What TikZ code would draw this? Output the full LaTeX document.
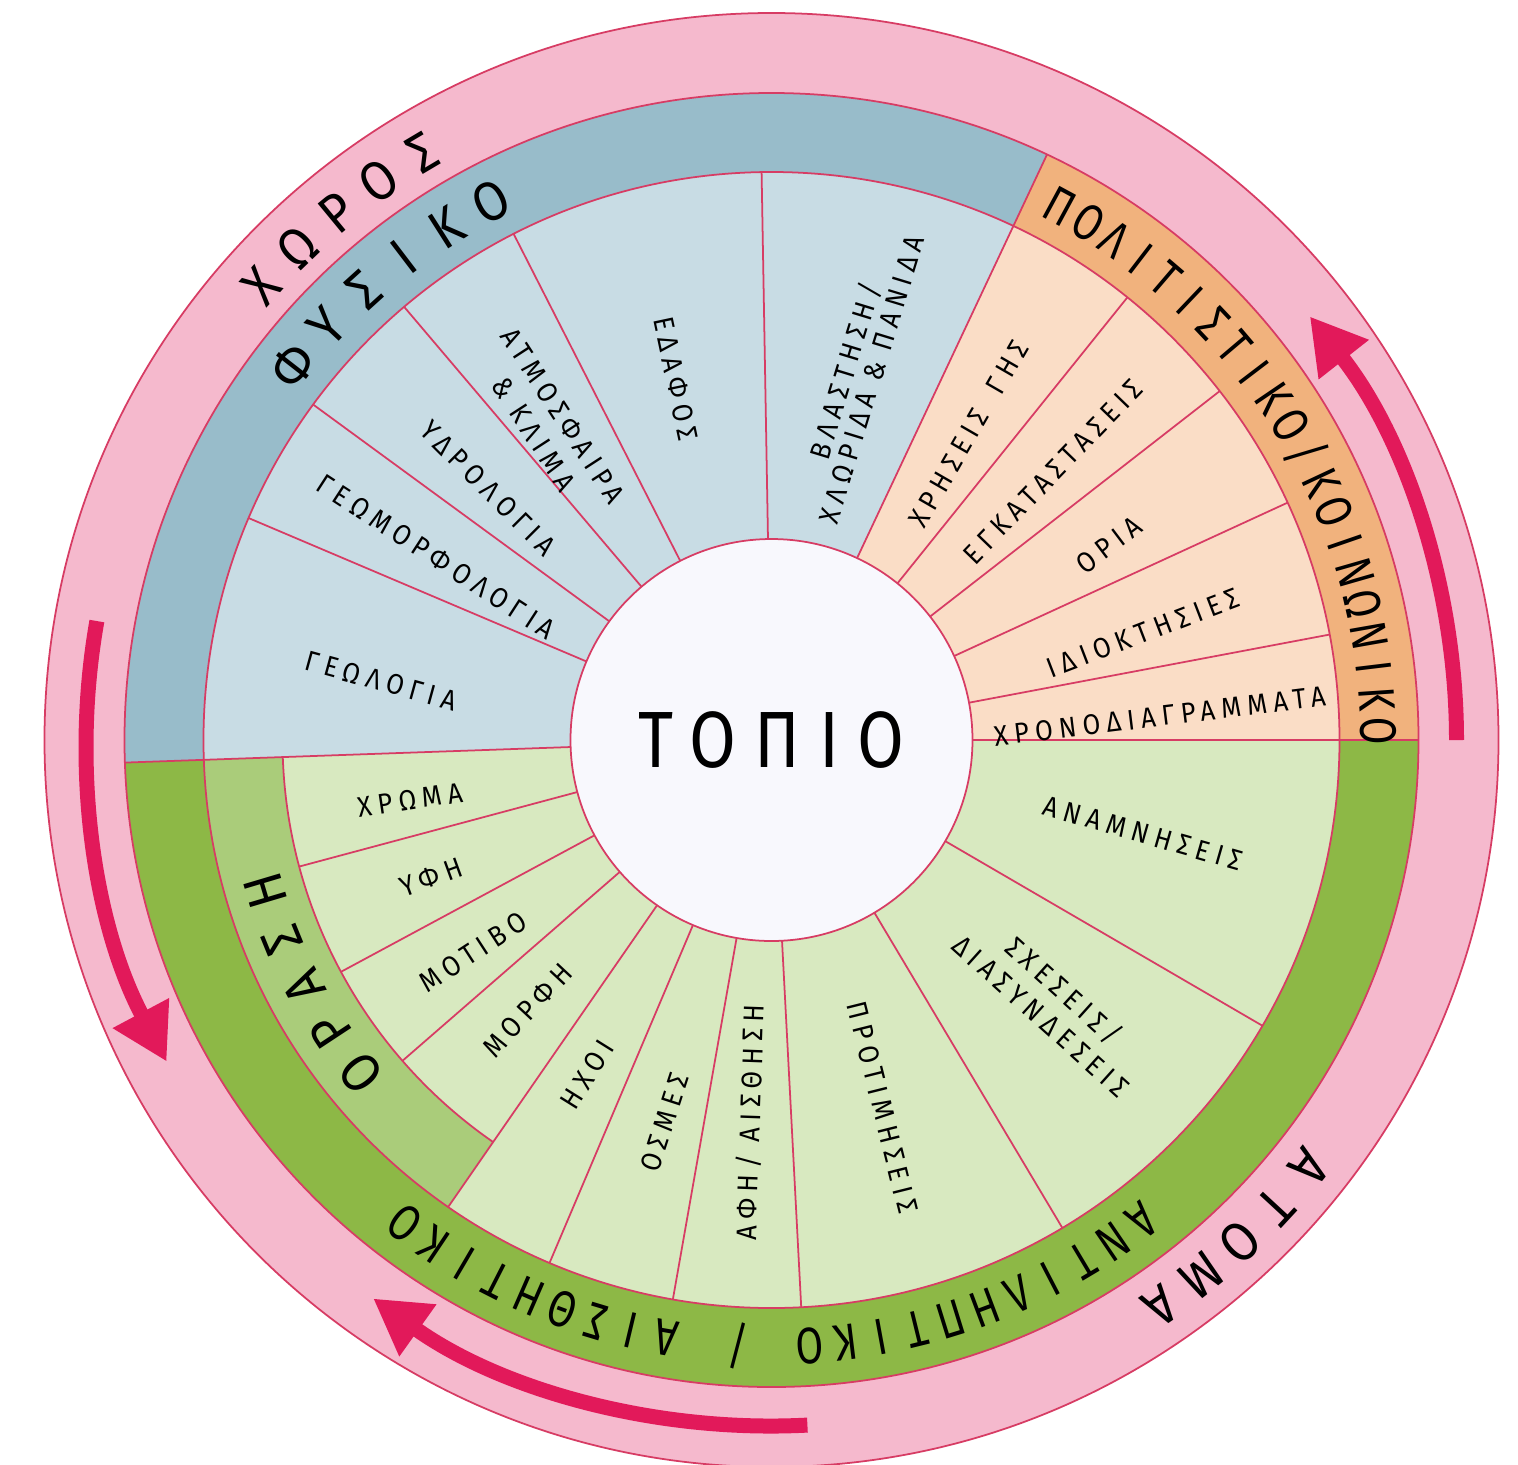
\documentclass[tikz,border=0pt]{standalone}
\usepackage{fontspec}
\setmainfont{Fira Sans}
\newfontfamily\bandfont[FakeStretch=0.9]{Fira Sans}
\newfontfamily\narrowfont[FakeStretch=0.78]{Fira Sans}
\newfontfamily\labelfont[FakeStretch=0.9,LetterSpace=22]{Fira Sans}
\newfontfamily\titlefont[FakeStretch=0.85,LetterSpace=23]{Fira Sans}
\usetikzlibrary{arrows.meta}

\definecolor{ringpink}{HTML}{F5B9CD}
\definecolor{rimred}{HTML}{D73C64}
\definecolor{arrowred}{HTML}{E2195A}
\definecolor{physband}{HTML}{98BCCA}
\definecolor{physseg}{HTML}{C8DCE4}
\definecolor{cultband}{HTML}{F1B27D}
\definecolor{cultseg}{HTML}{FADDC6}
\definecolor{percband}{HTML}{8DB846}
\definecolor{percseg}{HTML}{D8E9C0}
\definecolor{visband}{HTML}{AACC7A}
\definecolor{hubwhite}{HTML}{F8F8FD}

\tikzset{
  rim/.style={draw=rimred, line width=0.5pt},
  flow/.style={draw=arrowred, line width=1.5mm, -{Triangle[length=5.5mm,width=6mm]}},
  seglabel/.style={font=\labelfont\fontsize{8.1}{9.7}\selectfont, align=center, inner sep=0pt},
  ringletter/.style={font=\bandfont\fontsize{15.7}{16}\selectfont, inner sep=0pt},
  narrowletter/.style={font=\narrowfont\fontsize{14.6}{15}\selectfont, inner sep=0pt},
  hub/.style={circle, draw=rimred, line width=0.5pt, fill=hubwhite, minimum size=40.2mm,
    inner sep=0pt, font=\titlefont\fontsize{22.7}{24}\selectfont}
}

% letters spaced along a clockwise arc: style, name, radius, first angle, step, letters
\newcommand{\ringword}[6]{%
  \foreach \ch [count=\k from 0] in {#6}
    \node[#1, rotate={#4-#5*\k-90}] (#2-\k) at ({#4-#5*\k}:#3) {\ch};}

\begin{document}
\begin{tikzpicture}[x=0.1mm, y=0.1mm]

\fill[white] (-771.5,-724) rectangle (746.5,740);
\useasboundingbox (-771.5,-724) rectangle (746.5,740);

% outer ring
\draw[rim, fill=ringpink] (0,0) circle[radius=727];

% the three bands
\fill[physband] (0,0) -- (182:647) arc[start angle=182, end angle=64.8, radius=647] -- cycle;
\fill[cultband] (0,0) -- (64.8:647) arc[start angle=64.8, end angle=0, radius=647] -- cycle;
\fill[percband] (0,0) -- (0:647) arc[start angle=360, end angle=182, radius=647] -- cycle;

% segment areas
\fill[physseg] (0,0) -- (182:568) arc[start angle=182, end angle=64.8, radius=568] -- cycle;
\fill[cultseg] (0,0) -- (64.8:568) arc[start angle=64.8, end angle=0, radius=568] -- cycle;
\fill[percseg] (0,0) -- (0:568) arc[start angle=360, end angle=182, radius=568] -- cycle;
\fill[visband] (182:489) -- (182:568) arc[start angle=182, end angle=235.3, radius=568]
  -- (235.3:489) arc[start angle=235.3, end angle=182, radius=489] -- cycle;

\draw[rim] (0,0) circle[radius=647];
\draw[rim] (0,0) circle[radius=568];
\draw[rim] (182:489) arc[start angle=182, end angle=235.3, radius=489];

% dividers
\foreach \a in {157,143.8,130.3,117,91,51.2,37.9,24.7,10.7,-30.2,-59.2,-87,-100,-113,-124.7}
  \draw[rim] (\a:201) -- (\a:568);
\foreach \a in {195,208.3,221}
  \draw[rim] (\a:201) -- (\a:489);
\foreach \a in {182,64.8,0}
  \draw[rim] (\a:201) -- (\a:647);

\node[hub] (topio) at (0,0) {ΤΟΠΙΟ};

% arrows in the outer ring
\draw[flow] (0:685) arc[start angle=0, end angle=38.2, radius=685];
\draw[flow] (170:685) arc[start angle=170, end angle=208, radius=685];
\draw[flow] (273:686) arc[start angle=273, end angle=234.5, radius=686];

% ring and band titles
\ringword{ringletter}{xoros}{683}{138.3}{4.4}{Χ,Ω,Ρ,Ο,Σ}
\ringword{ringletter}{atoma}{687}{321.5}{4.25}{Α,Τ,Ο,Μ,Α}
\ringword{ringletter}{fysiko}{607}{142}{4.9}{Φ,Υ,Σ,Ι,Κ,Ο}
\ringword{narrowletter}{politistiko}{607}{61.6}{3.04}{Π,Ο,Λ,Ι,Τ,Ι,Σ,Τ,Ι,Κ,Ο,/,Κ,Ο,Ι,Ν,Ω,Ν,Ι,Κ,Ο}
\ringword{narrowletter}{antiliptiko}{607}{307.6}{3.4}{Α,Ν,Τ,Ι,Λ,Η,Π,Τ,Ι,Κ,Ο}
\ringword{narrowletter}{slash}{607}{266.8}{3.4}{/}
\ringword{narrowletter}{aisthitiko}{607}{260}{3.4}{Α,Ι,Σ,Θ,Η,Τ,Ι,Κ,Ο}
\ringword{ringletter}{orasi}{528.5}{219}{5.6}{Ο,Ρ,Α,Σ,Η}

% physical segments
\node[seglabel, rotate=-15.4] (geologia) at (171.4:395) {ΓΕΩΛΟΓΙΑ};
\node[seglabel, rotate=-33] (geomorfologia) at (151.4:382) {ΓΕΩΜΟΡΦΟΛΟΓΙΑ};
\node[seglabel, rotate=-45] (ydrologia) at (138.4:379) {ΥΔΡΟΛΟΓΙΑ};
\node[seglabel, rotate=-57] (atmosfaira) at (125.3:386) {ΑΤΜΟΣΦΑΙΡΑ\\\& ΚΛΙΜΑ};
\node[seglabel, rotate=-78] (edafos) at (104.8:374) {ΕΔΑΦΟΣ};
\node[seglabel, rotate=73, font=\labelfont\fontsize{8.1}{7.9}\selectfont] (vlastisi) at (76.8:375) {ΒΛΑΣΤΗΣΗ/\\ΧΛΩΡΙΔΑ \& ΠΑΝΙΔΑ};

% cultural segments
\node[seglabel, rotate=60] (xriseis) at (57.2:364) {ΧΡΗΣΕΙΣ\hspace{0.35em} ΓΗΣ};
\node[seglabel, rotate=46] (egkatastaseis) at (43.6:389) {ΕΓΚΑΤΑΣΤΑΣΕΙΣ};
\node[seglabel, rotate=37] (oria) at (30:390) {ΟΡΙΑ};
\node[seglabel, rotate=21] (idioktisies) at (16.1:387) {ΙΔΙΟΚΤΗΣΙΕΣ};
\node[seglabel, rotate=7] (xronodiagrammata) at (3.5:389) {ΧΡΟΝΟΔΙΑΓΡΑΜΜΑΤΑ};

% perceptual segments
\node[seglabel, rotate=-16] (anamniseis) at (-14.1:383) {ΑΝΑΜΝΗΣΕΙΣ};
\node[seglabel, rotate=-42] (sxeseis) at (-43:385) {ΣΧΕΣΕΙΣ/\\ΔΙΑΣΥΝΔΕΣΕΙΣ};
\node[seglabel, rotate=-76] (protimiseis) at (-73.2:384) {ΠΡΟΤΙΜΗΣΕΙΣ};
\node[seglabel, rotate=88] (afi) at (266.8:383) {ΑΦΗ/ ΑΙΣΘΗΣΗ};
\node[seglabel, rotate=72] (osmes) at (254.4:397) {ΟΣΜΕΣ};
\node[seglabel, rotate=58] (ixoi) at (241.2:382) {ΗΧΟΙ};
\node[seglabel, rotate=47] (morfi) at (227.9:364) {ΜΟΡΦΗ};
\node[seglabel, rotate=33] (motivo) at (215.4:366) {ΜΟΤΙΒΟ};
\node[seglabel, rotate=20] (yfi) at (202:367) {ΥΦΗ};
\node[seglabel, rotate=8.5] (xroma) at (189.4:366) {ΧΡΩΜΑ};

\end{tikzpicture}
\end{document}
